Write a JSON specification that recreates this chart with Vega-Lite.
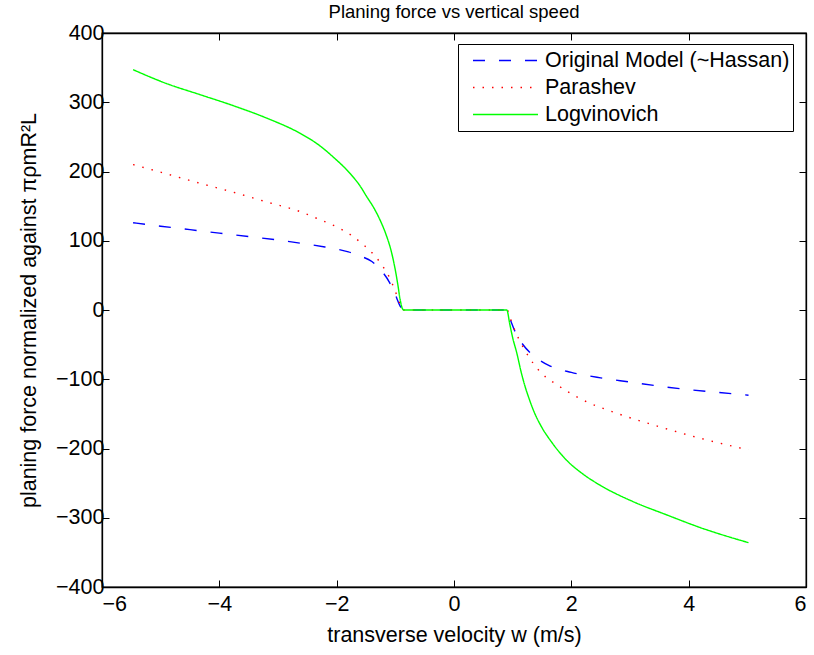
{
  "$schema": "https://vega.github.io/schema/vega-lite/v6.json",
  "autosize": {"type": "none"},
  "padding": {"left": 102, "top": 33, "right": 8, "bottom": 68},
  "width": 704,
  "height": 554,
  "background": "white",
  "title": {"text": "Planing force vs vertical speed", "font": "Liberation Sans", "fontSize": 18.5, "fontWeight": "normal", "color": "black", "offset": 1},
  "config": {
    "view": {"stroke": "black", "strokeWidth": 1.3},
    "axis": {"domainColor": "black", "domainWidth": 1.3, "tickColor": "black", "tickWidth": 1, "tickSize": -7, "grid": false, "labelFont": "Liberation Sans", "labelFontSize": 21.5, "labelColor": "black", "titleFont": "Liberation Sans", "titleFontSize": 21.5, "titleFontWeight": "normal", "titleColor": "black"},
    "legend": {"labelFont": "Liberation Sans", "labelFontSize": 21.5, "labelColor": "black", "labelLimit": 400}
  },
  "data": {"values": [
    {"series": "Original Model (~Hassan)", "w": -5.47, "f": 126},
    {"series": "Original Model (~Hassan)", "w": -5.0, "f": 121},
    {"series": "Original Model (~Hassan)", "w": -4.5, "f": 116},
    {"series": "Original Model (~Hassan)", "w": -4.0, "f": 111},
    {"series": "Original Model (~Hassan)", "w": -3.5, "f": 106},
    {"series": "Original Model (~Hassan)", "w": -3.0, "f": 101},
    {"series": "Original Model (~Hassan)", "w": -2.5, "f": 95},
    {"series": "Original Model (~Hassan)", "w": -2.2, "f": 91},
    {"series": "Original Model (~Hassan)", "w": -2.0, "f": 88},
    {"series": "Original Model (~Hassan)", "w": -1.8, "f": 84},
    {"series": "Original Model (~Hassan)", "w": -1.6, "f": 78},
    {"series": "Original Model (~Hassan)", "w": -1.4, "f": 70},
    {"series": "Original Model (~Hassan)", "w": -1.25, "f": 58},
    {"series": "Original Model (~Hassan)", "w": -1.1, "f": 40},
    {"series": "Original Model (~Hassan)", "w": -1.0, "f": 22},
    {"series": "Original Model (~Hassan)", "w": -0.92, "f": 6},
    {"series": "Original Model (~Hassan)", "w": -0.87, "f": 0},
    {"series": "Original Model (~Hassan)", "w": 0.9, "f": 0},
    {"series": "Original Model (~Hassan)", "w": 0.96, "f": -14},
    {"series": "Original Model (~Hassan)", "w": 1.04, "f": -31},
    {"series": "Original Model (~Hassan)", "w": 1.15, "f": -47},
    {"series": "Original Model (~Hassan)", "w": 1.3, "f": -62},
    {"series": "Original Model (~Hassan)", "w": 1.47, "f": -73},
    {"series": "Original Model (~Hassan)", "w": 1.64, "f": -81},
    {"series": "Original Model (~Hassan)", "w": 2.0, "f": -90},
    {"series": "Original Model (~Hassan)", "w": 2.5, "f": -98},
    {"series": "Original Model (~Hassan)", "w": 3.0, "f": -104},
    {"series": "Original Model (~Hassan)", "w": 3.5, "f": -110},
    {"series": "Original Model (~Hassan)", "w": 4.0, "f": -115},
    {"series": "Original Model (~Hassan)", "w": 4.5, "f": -119},
    {"series": "Original Model (~Hassan)", "w": 5.02, "f": -123},
    {"series": "Parashev", "w": -5.47, "f": 210},
    {"series": "Parashev", "w": -5.0, "f": 199},
    {"series": "Parashev", "w": -4.33, "f": 183},
    {"series": "Parashev", "w": -3.76, "f": 170},
    {"series": "Parashev", "w": -3.19, "f": 156},
    {"series": "Parashev", "w": -2.62, "f": 142},
    {"series": "Parashev", "w": -2.3, "f": 131},
    {"series": "Parashev", "w": -2.0, "f": 120},
    {"series": "Parashev", "w": -1.75, "f": 108},
    {"series": "Parashev", "w": -1.57, "f": 96},
    {"series": "Parashev", "w": -1.46, "f": 88},
    {"series": "Parashev", "w": -1.23, "f": 65},
    {"series": "Parashev", "w": -1.1, "f": 47},
    {"series": "Parashev", "w": -1.01, "f": 29},
    {"series": "Parashev", "w": -0.89, "f": 3},
    {"series": "Parashev", "w": -0.87, "f": 0},
    {"series": "Parashev", "w": 0.9, "f": 0},
    {"series": "Parashev", "w": 1.0, "f": -22},
    {"series": "Parashev", "w": 1.1, "f": -41},
    {"series": "Parashev", "w": 1.22, "f": -60},
    {"series": "Parashev", "w": 1.35, "f": -77},
    {"series": "Parashev", "w": 1.5, "f": -92},
    {"series": "Parashev", "w": 1.72, "f": -106},
    {"series": "Parashev", "w": 2.15, "f": -128},
    {"series": "Parashev", "w": 2.77, "f": -149},
    {"series": "Parashev", "w": 3.4, "f": -166},
    {"series": "Parashev", "w": 4.19, "f": -185},
    {"series": "Parashev", "w": 5.02, "f": -202},
    {"series": "Logvinovich", "w": -5.47, "f": 347},
    {"series": "Logvinovich", "w": -4.9, "f": 327},
    {"series": "Logvinovich", "w": -4.33, "f": 311},
    {"series": "Logvinovich", "w": -3.76, "f": 295},
    {"series": "Logvinovich", "w": -3.19, "f": 277},
    {"series": "Logvinovich", "w": -2.62, "f": 255},
    {"series": "Logvinovich", "w": -2.3, "f": 238},
    {"series": "Logvinovich", "w": -2.06, "f": 221},
    {"series": "Logvinovich", "w": -1.77, "f": 197},
    {"series": "Logvinovich", "w": -1.6, "f": 179},
    {"series": "Logvinovich", "w": -1.49, "f": 164},
    {"series": "Logvinovich", "w": -1.35, "f": 145},
    {"series": "Logvinovich", "w": -1.25, "f": 128},
    {"series": "Logvinovich", "w": -1.15, "f": 107},
    {"series": "Logvinovich", "w": -1.07, "f": 85},
    {"series": "Logvinovich", "w": -1.01, "f": 62},
    {"series": "Logvinovich", "w": -0.96, "f": 38},
    {"series": "Logvinovich", "w": -0.92, "f": 16},
    {"series": "Logvinovich", "w": -0.88, "f": 2},
    {"series": "Logvinovich", "w": -0.86, "f": 0},
    {"series": "Logvinovich", "w": 0.9, "f": 0},
    {"series": "Logvinovich", "w": 0.95, "f": -20},
    {"series": "Logvinovich", "w": 1.0, "f": -40},
    {"series": "Logvinovich", "w": 1.07, "f": -62},
    {"series": "Logvinovich", "w": 1.14, "f": -88},
    {"series": "Logvinovich", "w": 1.21, "f": -110},
    {"series": "Logvinovich", "w": 1.28, "f": -128},
    {"series": "Logvinovich", "w": 1.35, "f": -144},
    {"series": "Logvinovich", "w": 1.5, "f": -170},
    {"series": "Logvinovich", "w": 1.64, "f": -188},
    {"series": "Logvinovich", "w": 1.92, "f": -217},
    {"series": "Logvinovich", "w": 2.2, "f": -237},
    {"series": "Logvinovich", "w": 2.49, "f": -253},
    {"series": "Logvinovich", "w": 3.06, "f": -277},
    {"series": "Logvinovich", "w": 3.63, "f": -296},
    {"series": "Logvinovich", "w": 4.19, "f": -314},
    {"series": "Logvinovich", "w": 5.02, "f": -336}
  ]},
  "layer": [
    {
      "mark": {"type": "line", "strokeWidth": 1.4, "clip": true, "interpolate": "monotone"},
      "encoding": {
        "x": {"field": "w", "type": "quantitative", "scale": {"domain": [-6, 6], "nice": false},
              "axis": {"orient": "bottom", "values": [-6, -4, -2, 0, 2, 4, 6], "title": "transverse velocity w (m/s)", "labelPadding": 13, "titlePadding": 10}},
        "y": {"field": "f", "type": "quantitative", "scale": {"domain": [-400, 400], "nice": false},
              "axis": {"orient": "left", "values": [-400, -300, -200, -100, 0, 100, 200, 300, 400], "title": "planing force normalized against πρmR²L", "labelPadding": 5, "titlePadding": 15}},
        "color": {"field": "series", "type": "nominal",
                  "scale": {"domain": ["Original Model (~Hassan)", "Parashev", "Logvinovich"], "range": ["#0000ff", "#ff0000", "#00ff00"]},
                  "legend": {"title": null, "orient": "none", "legendX": 356, "legendY": 11, "symbolType": "stroke", "symbolSize": 4225, "symbolStrokeWidth": 1.4, "clipHeight": 27, "rowPadding": 0, "padding": 3, "symbolOffset": 11, "labelOffset": 6, "strokeColor": "black", "fillColor": "white", "cornerRadius": 0}},
        "strokeDash": {"field": "series", "type": "nominal",
                  "scale": {"domain": ["Original Model (~Hassan)", "Parashev", "Logvinovich"], "range": [[12, 14], [1.5, 8], [1, 0]]},
                  "legend": {"title": null, "orient": "none", "legendX": 356, "legendY": 11, "symbolType": "stroke", "symbolSize": 4225, "symbolStrokeWidth": 1.4, "clipHeight": 27, "rowPadding": 0, "padding": 3, "symbolOffset": 11, "labelOffset": 6, "strokeColor": "black", "fillColor": "white", "cornerRadius": 0}}
      }
    },
    {
      "mark": {"type": "point", "opacity": 0},
      "encoding": {
        "x": {"field": "w", "type": "quantitative",
              "axis": {"orient": "top", "values": [-6, -4, -2, 0, 2, 4, 6], "labels": false, "title": null}},
        "y": {"field": "f", "type": "quantitative",
              "axis": {"orient": "right", "values": [-400, -300, -200, -100, 0, 100, 200, 300, 400], "labels": false, "title": null}}
      }
    }
  ],
  "resolve": {"axis": {"x": "independent", "y": "independent"}}
}
